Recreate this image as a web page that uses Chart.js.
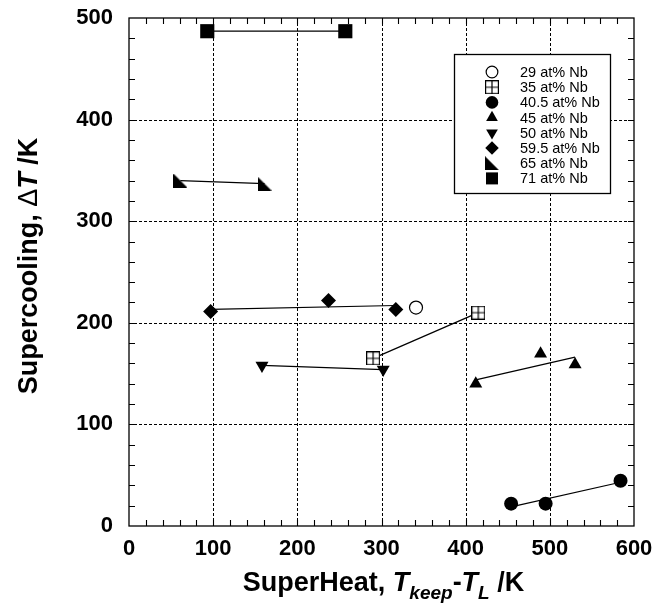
<!DOCTYPE html>
<html><head><meta charset="utf-8">
<script src="https://cdn.jsdelivr.net/npm/chart.js@4/dist/chart.umd.min.js"></script>
<style>html,body{margin:0;padding:0;background:#fff}#wrap{width:669px;height:608px}</style>
</head><body><div id="wrap"><canvas id="c" width="669" height="608"></canvas></div>
<script>
// ---- data ----
const seriesLabels = ['29 at% Nb','35 at% Nb','40.5 at% Nb','45 at% Nb','50 at% Nb','59.5 at% Nb','65 at% Nb','71 at% Nb'];
const nb29X  = [341];            const nb29Y  = [215];
const nb35X  = [290, 415];       const nb35Y  = [165, 210];
const nb405X = [454, 495, 584];  const nb405Y = [22, 22, 44.5];
const nb45X  = [412, 489, 530];  const nb45Y  = [140, 169.5, 159];
const nb50X  = [158, 302];       const nb50Y  = [158, 154];
const nb595X = [97, 237, 317];   const nb595Y = [211, 222, 213];
const nb65X  = [61, 161];        const nb65Y  = [340, 337];
const nb71X  = [93, 257];        const nb71Y  = [487, 487];
const xTickValues = [0, 100, 200, 300, 400, 500, 600];
const yTickValues = [0, 100, 200, 300, 400, 500];

const FONT = "'Liberation Sans', Arial, sans-serif";

function makeSquarePlus(s){
  const c=document.createElement('canvas'); c.width=s; c.height=s;
  const g=c.getContext('2d'); g.fillStyle='#fff'; g.fillRect(0,0,s,s);
  g.strokeStyle='#000'; g.lineWidth=1.2;
  g.strokeRect(0.6,0.6,s-1.2,s-1.2);
  g.beginPath(); g.moveTo(s/2,0); g.lineTo(s/2,s); g.moveTo(0,s/2); g.lineTo(s,s/2); g.stroke();
  return c;
}
function makeRightTri(s){
  const c=document.createElement('canvas'); c.width=s; c.height=s;
  const g=c.getContext('2d'); g.fillStyle='#000';
  g.beginPath(); g.moveTo(0,0); g.lineTo(0,s); g.lineTo(s,s); g.closePath(); g.fill();
  return c;
}
const sqPlus = makeSquarePlus(14);
const rTri = makeRightTri(14);

const styles = [
  {pointStyle:'circle', radius:6.5, bg:'#fff', bw:1.2, rot:0},
  {pointStyle:sqPlus, radius:7, bg:'#fff', bw:0, rot:0},
  {pointStyle:'circle', radius:7, bg:'#000', bw:0, rot:0},
  {pointStyle:'triangle', radius:7.5, bg:'#000', bw:0, rot:0},
  {pointStyle:'triangle', radius:7.5, bg:'#000', bw:0, rot:180},
  {pointStyle:'rectRot', radius:7.5, bg:'#000', bw:0, rot:0},
  {pointStyle:rTri, radius:7, bg:'#000', bw:0, rot:0},
  {pointStyle:'rect', radius:10, bg:'#000', bw:0, rot:0}
];
const seriesX = [nb29X, nb35X, nb405X, nb45X, nb50X, nb595X, nb65X, nb71X];
const seriesY = [nb29Y, nb35Y, nb405Y, nb45Y, nb50Y, nb595Y, nb65Y, nb71Y];

function fitLine(xs, ys){
  const n=xs.length; const mx=xs.reduce((a,b)=>a+b,0)/n; const my=ys.reduce((a,b)=>a+b,0)/n;
  let sxy=0,sxx=0; for(let i=0;i<n;i++){sxy+=(xs[i]-mx)*(ys[i]-my); sxx+=(xs[i]-mx)**2;}
  const b=sxy/sxx, a=my-b*mx; const x0=Math.min(...xs), x1=Math.max(...xs);
  return [{x:x0,y:a+b*x0},{x:x1,y:a+b*x1}];
}

const datasets=[];
seriesX.forEach((xs,i)=>{
  if(xs.length>1){
    datasets.push({type:'line', label:'fit'+i, data:fitLine(xs,seriesY[i]), borderColor:'#000', borderWidth:1.2,
      pointRadius:0, fill:false, showLine:true, order:2});
  }
});
seriesX.forEach((xs,i)=>{
  const s=styles[i];
  datasets.push({type:'scatter', label:seriesLabels[i], data:xs.map((x,j)=>({x:x,y:seriesY[i][j]})),
    pointStyle:s.pointStyle, pointRadius:s.radius, pointHoverRadius:s.radius, pointRotation:s.rot,
    backgroundColor:s.bg, borderColor:'#000', borderWidth:s.bw, order:1});
});

const decor = {
  id:'decor',
  beforeDatasetsDraw(chart){
    const {ctx, chartArea:a, scales:{x,y}} = chart;
    ctx.save(); ctx.strokeStyle='#000'; ctx.lineWidth=1; ctx.setLineDash([3,2]);
    for(const v of xTickValues){ if(v<=0||v>=600) continue; const px=Math.round(x.getPixelForValue(v))+0.5;
      ctx.beginPath(); ctx.moveTo(px,a.top); ctx.lineTo(px,a.bottom); ctx.stroke(); }
    for(const v of yTickValues){ if(v<=0||v>=500) continue; const py=Math.round(y.getPixelForValue(v))+0.5;
      ctx.beginPath(); ctx.moveTo(a.left,py); ctx.lineTo(a.right,py); ctx.stroke(); }
    ctx.restore();
  },
  afterDatasetsDraw(chart){
    const {ctx, chartArea:a, scales:{x,y}} = chart;
    ctx.save(); ctx.strokeStyle='#000'; ctx.lineWidth=1.3; ctx.setLineDash([]);
    ctx.strokeRect(a.left,a.top,a.right-a.left,a.bottom-a.top);
    ctx.lineWidth=1.1; ctx.beginPath();
    for(let v=20; v<600; v+=20){ const px=Math.round(x.getPixelForValue(v))+0.5;
      ctx.moveTo(px,a.bottom); ctx.lineTo(px,a.bottom-6); ctx.moveTo(px,a.top); ctx.lineTo(px,a.top+6); }
    for(let v=20; v<500; v+=20){ const py=Math.round(y.getPixelForValue(v))+0.5;
      ctx.moveTo(a.left,py); ctx.lineTo(a.left+6,py); ctx.moveTo(a.right,py); ctx.lineTo(a.right-6,py); }
    ctx.stroke();
    // legend
    const L=454, T=54, R=610, B=193;
    ctx.fillStyle='#fff'; ctx.fillRect(L,T,R-L,B-T);
    ctx.lineWidth=1.3; ctx.strokeRect(L+0.5,T+0.5,R-L,B-T);
    ctx.font='14.5px '+FONT; ctx.textBaseline='middle'; ctx.textAlign='left';
    seriesLabels.forEach((lab,i)=>{
      const ry=72+i*15.2; const s=styles[i];
      ctx.fillStyle=s.bg; ctx.strokeStyle='#000'; ctx.lineWidth=s.bw||1;
      let r=s.radius*0.9; if(s.pointStyle==='rect') r=8.5;
      Chart.helpers.drawPoint(ctx,{pointStyle:s.pointStyle, radius:r, rotation:s.rot, borderWidth:s.bw},492,ry);
      ctx.fillStyle='#000';
      ctx.fillText(lab,520,ry+1);
    });
    ctx.restore();
  },
  afterDraw(chart){
    const {ctx, chartArea:a} = chart;
    ctx.save(); ctx.fillStyle='#000'; ctx.textBaseline='alphabetic'; ctx.textAlign='left';
    // x title
    const segs=[
      {t:'SuperHeat, ', f:'bold 27px '+FONT, dy:0},
      {t:'T', f:'italic bold 27px '+FONT, dy:0},
      {t:'keep', f:'italic bold 19px '+FONT, dy:8},
      {t:'-', f:'bold 27px '+FONT, dy:0},
      {t:'T', f:'italic bold 27px '+FONT, dy:0},
      {t:'L', f:'italic bold 19px '+FONT, dy:8},
      {t:' /K', f:'bold 27px '+FONT, dy:0}
    ];
    let w=0; segs.forEach(s=>{ctx.font=s.f; s.w=ctx.measureText(s.t).width; w+=s.w;});
    let cx=(a.left+a.right)/2+2-w/2; const by=591;
    segs.forEach(s=>{ctx.font=s.f; ctx.fillText(s.t,cx,by+s.dy); cx+=s.w;});
    // y title
    const ys=[
      {t:'Supercooling, ', f:'bold 27px '+FONT},
      {t:'\u0394', f:'27px '+FONT},
      {t:'T', f:'italic bold 27px '+FONT},
      {t:' /K', f:'bold 27px '+FONT}
    ];
    let wy=0; ys.forEach(s=>{ctx.font=s.f; s.w=ctx.measureText(s.t).width; wy+=s.w;});
    ctx.translate(37, 266); ctx.rotate(-Math.PI/2);
    let sx=-wy/2;
    ys.forEach(s=>{ctx.font=s.f; ctx.fillText(s.t,sx,0); sx+=s.w;});
    ctx.restore();
  }
};

new Chart(document.getElementById('c'), {
  data:{datasets},
  options:{
    responsive:false, animation:false, devicePixelRatio:1,
    layout:{padding:{left:0,right:35,top:18,bottom:0}},
    plugins:{legend:{display:false}, tooltip:{enabled:false}},
    scales:{
      x:{type:'linear', min:0, max:600,
        afterFit(s){ s.height=82; s.paddingLeft=0; s.paddingRight=0; },
        afterBuildTicks(s){ s.ticks = xTickValues.map(v=>({value:v})); },
        grid:{display:false, drawTicks:false}, border:{display:false},
        ticks:{color:'#000', padding:10, maxRotation:0, autoSkip:false, font:{family:FONT, weight:'bold', size:22}}},
      y:{type:'linear', min:0, max:500,
        afterFit(s){ s.width=129; s.paddingTop=0; s.paddingBottom=0; },
        afterBuildTicks(s){ s.ticks = yTickValues.map(v=>({value:v})); },
        grid:{display:false, drawTicks:false}, border:{display:false},
        ticks:{color:'#000', padding:16, autoSkip:false, font:{family:FONT, weight:'bold', size:22}}}
    }
  },
  plugins:[decor]
});
</script></body></html>
